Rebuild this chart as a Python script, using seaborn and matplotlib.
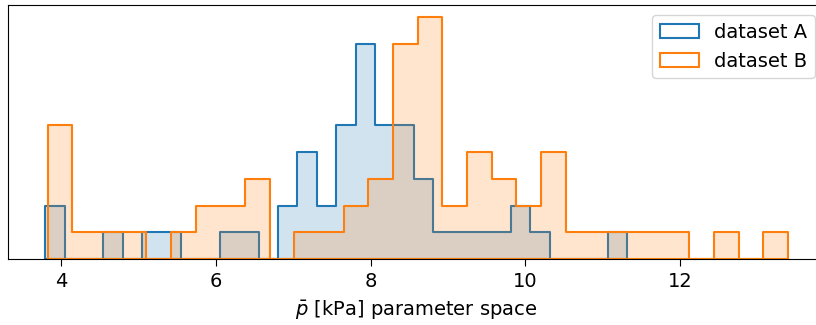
"""Two overlaid step histograms (dataset A / dataset B) over the p-bar parameter space."""

import matplotlib

matplotlib.use("Agg")

import matplotlib.pyplot as plt
import numpy as np
import seaborn as sns

# ---------- data ----------

labels = ["dataset A", "dataset B"]

# bin ranges (kPa) and per-bin counts, 30 bins each
range_a = (3.791, 11.32)
counts_a = [2, 0, 0, 1, 0, 1, 1, 0, 0, 1,
            1, 0, 2, 4, 2, 5, 8, 5, 5, 3,
            1, 1, 1, 1, 2, 1, 0, 0, 0, 1]

range_b = (3.823, 13.397)
counts_b = [5, 1, 1, 1, 0, 1, 2, 2, 3, 0,
            1, 1, 2, 3, 8, 9, 2, 4, 3, 2,
            4, 1, 1, 1, 1, 1, 0, 1, 0, 1]

xticks = [4, 6, 8, 10, 12]
xlabel = r"$\bar{p}$ [kPa] parameter space"


def _bins(rng, counts):
    edges = np.linspace(rng[0], rng[1], len(counts) + 1)
    centers = 0.5 * (edges[:-1] + edges[1:])
    return edges.tolist(), centers


fig = plt.figure(figsize=(8.16, 3.25), dpi=100)
ax = fig.add_axes([8 / 816, (325 - 259.3) / 325, (825 - 8) / 816, 254 / 325])

colors = ["#1f77b4", "#ff7f0e"]
for rng, counts, label, color in zip(
    [range_a, range_b], [counts_a, counts_b], labels, colors
):
    edges, centers = _bins(rng, counts)
    # translucent fill
    sns.histplot(
        x=centers, weights=counts, bins=edges, element="step", fill=True,
        alpha=0.2, color=color, linewidth=0, ax=ax,
    )
    # solid outline (also the legend handle)
    sns.histplot(
        x=centers, weights=counts, bins=edges, element="step", fill=True,
        color=color, facecolor="none", edgecolor=color, linewidth=1.5,
        label=label, ax=ax,
    )

ax.set_xlim(3.311, 13.877)
ax.set_ylim(0, 9.45)
ax.set_yticks([])
ax.set_ylabel("")
ax.set_xticks(xticks)
ax.tick_params(axis="x", labelsize=14, length=5.3, pad=4)
ax.set_xlabel(xlabel, fontsize=14, labelpad=5)
ax.legend(loc="upper right", fontsize=14)

fig.savefig("out.png", dpi=100)
